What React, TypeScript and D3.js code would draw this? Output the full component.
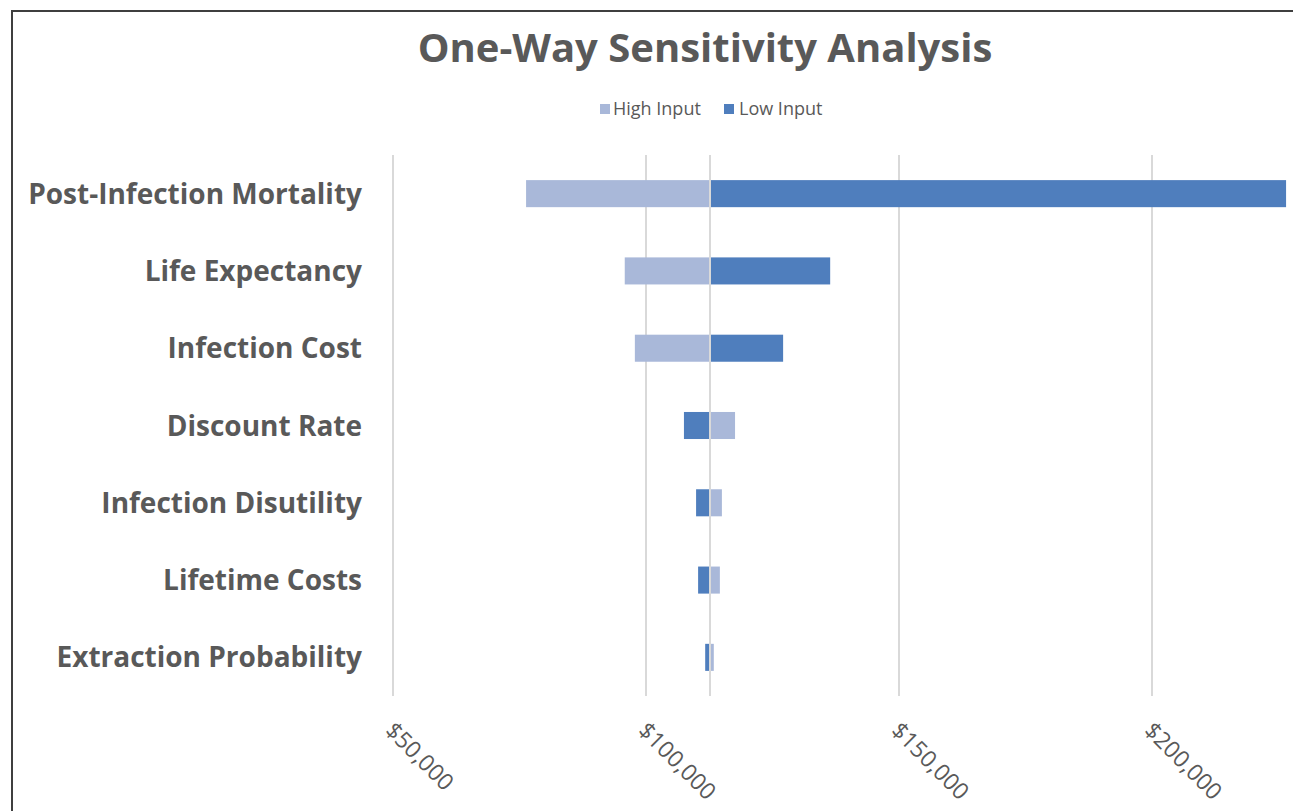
import React from "react";
import * as d3 from "d3";

const categories = [
  "Post-Infection Mortality",
  "Life Expectancy",
  "Infection Cost",
  "Discount Rate",
  "Infection Disutility",
  "Lifetime Costs",
  "Extraction Probability",
];
const highInput = [76300, 95800, 97800, 117600, 115000, 114600, 113400];
const lowInput = [226500, 136400, 127100, 107500, 109900, 110300, 111700];
const baseValue = 112650;
const tickValues = [50000, 100000, 150000, 200000];
const seriesNames = ["High Input", "Low Input"];

const W = 1293;
const H = 811;
const HIGH_COLOR = "#a9b8d9";
const LOW_COLOR = "#4f7ebd";
const TEXT = "#595959";
const FONT = "'Open Sans', 'Liberation Sans', sans-serif";

export default function App() {
  const x = d3.scaleLinear().domain([50000, 227000]).range([393, 1288.6]);
  const y = d3
    .scaleBand<string>()
    .domain(categories)
    .range([155, 696])
    .paddingInner(0.65)
    .paddingOuter(0.325);
  const fmt = (v: number) => "$" + d3.format(",")(v);
  const bw = y.bandwidth();

  const bar = (v: number, cat: string, color: string, key: string) => {
    const x0 = Math.min(x(v), x(baseValue));
    const x1 = Math.max(x(v), x(baseValue));
    return <rect key={key} x={x0} y={y(cat)!} width={x1 - x0} height={bw} fill={color} />;
  };

  return (
    <svg
      width={W}
      height={H}
      style={{ position: "absolute", left: 0, top: 0, background: "#fff" }}
      fontFamily={FONT}
    >
      <rect x={0} y={0} width={W} height={H} fill="#fff" />
      {/* frame */}
      <path d={`M12,${H} L12,11 L${W},11`} fill="none" stroke="#3f3f3f" strokeWidth={2} />
      {/* title */}
      <text x={705} y={62} textAnchor="middle" fontSize={40} fontWeight={700} fill={TEXT}>
        One-Way Sensitivity Analysis
      </text>
      {/* legend */}
      <g fontSize={18} fill={TEXT}>
        <rect x={600} y={104} width={10} height={10} fill={HIGH_COLOR} />
        <text x={613} y={115}>{seriesNames[0]}</text>
        <rect x={724} y={104} width={10} height={10} fill={LOW_COLOR} />
        <text x={739} y={115}>{seriesNames[1]}</text>
      </g>
      {/* gridlines */}
      {tickValues.map((t) => (
        <line key={t} x1={x(t)} x2={x(t)} y1={155} y2={696} stroke="#d9d9d9" strokeWidth={2} />
      ))}
      {/* bars */}
      {categories.map((c, i) => (
        <g key={c}>
          {bar(highInput[i], c, HIGH_COLOR, "h")}
          {bar(lowInput[i], c, LOW_COLOR, "l")}
        </g>
      ))}
      {/* baseline axis */}
      <line x1={x(baseValue)} x2={x(baseValue)} y1={155} y2={696} stroke="#d9d9d9" strokeWidth={2} />
      {/* category labels */}
      {categories.map((c) => (
        <text
          key={c}
          x={362}
          y={y(c)! + bw / 2}
          dy="0.36em"
          textAnchor="end"
          fontSize={28}
          fontWeight={700}
          fill={TEXT}
        >
          {c}
        </text>
      ))}
      {/* tick labels */}
      {tickValues.map((t) => (
        <text
          key={t}
          transform={`translate(${x(t) - 9},${732}) rotate(45)`}
          fontSize={23}
          fill={TEXT}
        >
          {fmt(t)}
        </text>
      ))}
    </svg>
  );
}
